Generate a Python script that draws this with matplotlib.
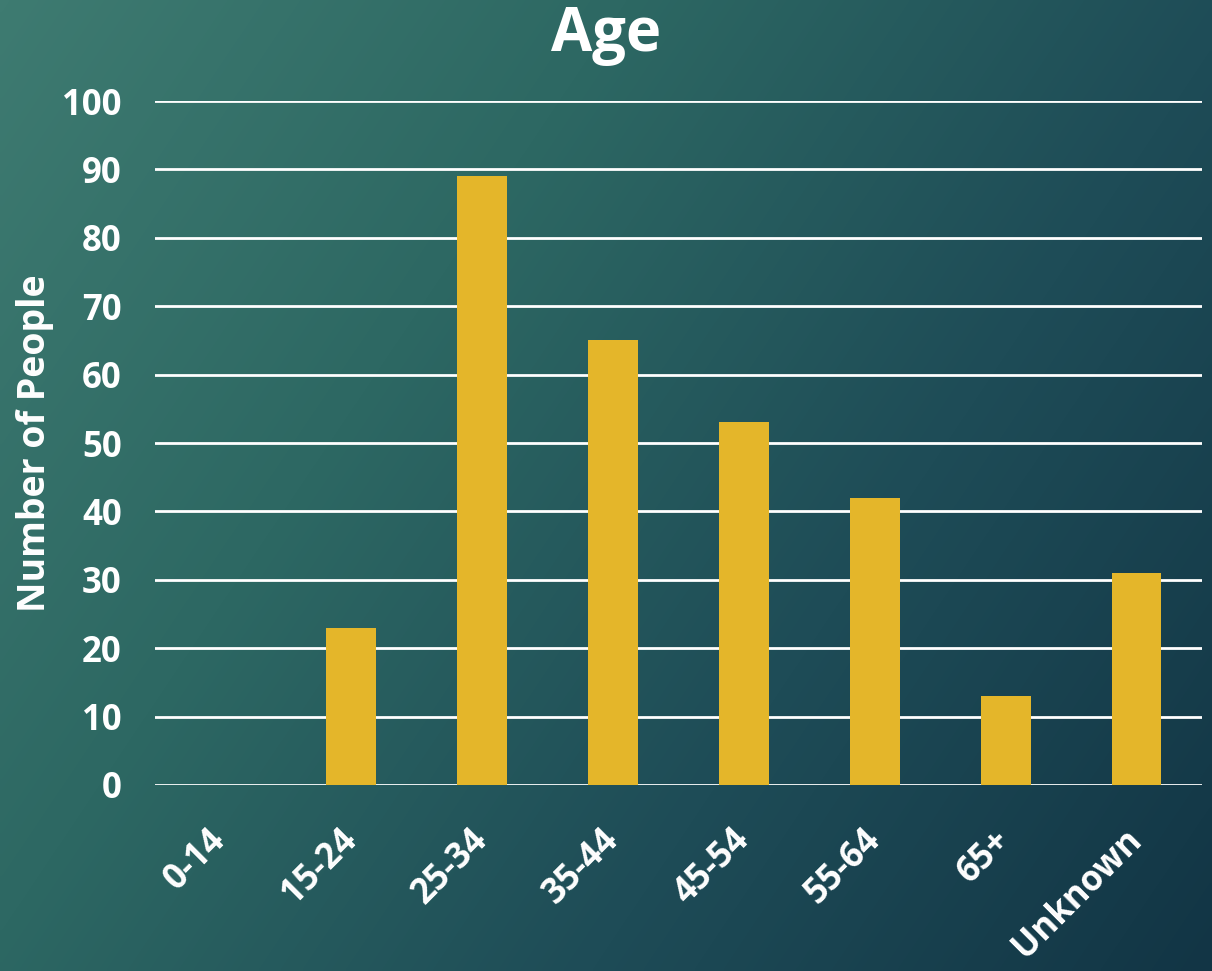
import numpy as np
import matplotlib
matplotlib.use("Agg")
import matplotlib.pyplot as plt
from matplotlib.colors import LinearSegmentedColormap

categories = ["0-14", "15-24", "25-34", "35-44", "45-54", "55-64", "65+", "Unknown"]
values = [0, 23, 89, 65, 53, 42, 13, 31]
yticks = [0, 10, 20, 30, 40, 50, 60, 70, 80, 90, 100]

plt.rcParams['font.family'] = ['Open Sans', 'DejaVu Sans']
plt.rcParams['font.weight'] = 'bold'

W, H = 1212, 971
fig = plt.figure(figsize=(W / 100, H / 100), dpi=100)

# background gradient
bg = fig.add_axes([0, 0, 1, 1])
xx, yy = np.meshgrid(np.linspace(0, 1, 300), np.linspace(0, 1, 240))
t = np.clip(0.65 * xx + 0.35 * yy, 0, 1)
cmap = LinearSegmentedColormap.from_list("bg", ["#3E7B71", "#2D6863", "#1E4C57", "#123545"])
bg.imshow(t, cmap=cmap, aspect='auto', extent=[0, 1, 1, 0], interpolation='bilinear')
bg.set_axis_off()

ax = fig.add_axes([155 / W, 1 - 785 / H, (1202 - 155) / W, (785 - 101) / H])
ax.set_facecolor('none')
x = np.arange(len(categories))
ax.bar(x, values, width=0.38, color='#E4B62A', zorder=3)
ax.set_xlim(-0.5, len(categories) - 0.5)
ax.set_ylim(0, 100)
ax.set_yticks(yticks)
ax.yaxis.grid(True, color='white', linewidth=2, zorder=0)
ax.set_axisbelow(True)
for s in ax.spines.values():
    s.set_visible(False)
ax.tick_params(axis='both', length=0, colors='white', labelsize=25)
ax.tick_params(axis='y', pad=24)
ax.set_xticks(x)
ax.set_xticklabels(categories, rotation=45, ha='right', va='center', rotation_mode='anchor', fontweight='bold')
ax.tick_params(axis='x', pad=36)
for lbl in ax.get_yticklabels():
    lbl.set_fontweight('bold')
ax.set_ylabel("Number of People", color='white', fontsize=27, fontweight='bold', labelpad=6)
fig.text(0.5, 1 - 35 / H, "Age", color='white', fontsize=43, fontweight='bold', ha='center', va='center')

fig.savefig("out.png", dpi=100)
